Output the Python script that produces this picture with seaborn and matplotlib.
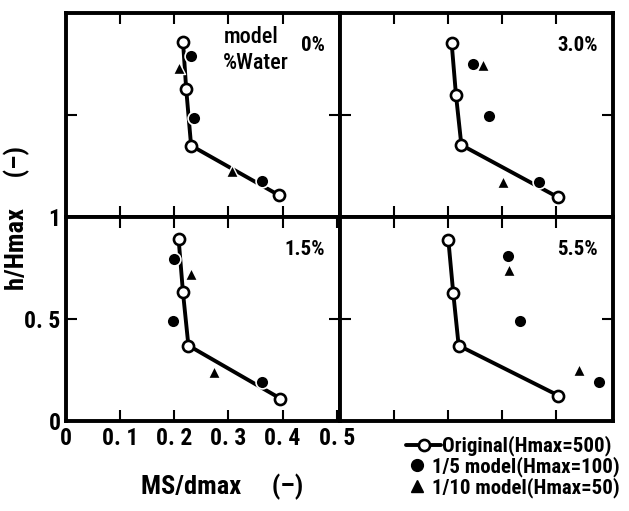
import numpy as np
import pandas as pd
import seaborn as sns
import matplotlib.pyplot as plt
from matplotlib.lines import Line2D

# panels in grid order: top-left, top-right, bottom-left, bottom-right
water = ['0%', '3.0%', '1.5%', '5.5%']

# Original (Hmax=500)
orig_x = [[0.216, 0.222, 0.231, 0.393],
          [0.207, 0.215, 0.225, 0.404],
          [0.208, 0.216, 0.226, 0.396],
          [0.201, 0.210, 0.220, 0.404]]
orig_y = [[0.86, 0.625, 0.35, 0.107],
          [0.855, 0.60, 0.353, 0.096],
          [0.89, 0.63, 0.37, 0.11],
          [0.887, 0.628, 0.37, 0.125]]

# 1/5 model (Hmax=100)
m5_x = [[0.230, 0.236, 0.362],
        [0.246, 0.276, 0.369],
        [0.200, 0.198, 0.362],
        [0.312, 0.333, 0.480]]
m5_y = [[0.79, 0.486, 0.177],
        [0.75, 0.494, 0.172],
        [0.795, 0.49, 0.19],
        [0.81, 0.49, 0.19]]

# 1/10 model (Hmax=50)
m10_x = [[0.208, 0.307],
         [0.265, 0.302],
         [0.230, 0.273],
         [0.313, 0.443]]
m10_y = [[0.73, 0.226],
         [0.743, 0.172],
         [0.72, 0.24],
         [0.74, 0.25]]

xticks = [0, 0.1, 0.2, 0.3, 0.4, 0.5]
xticklabels = ['0', '0. 1', '0. 2', '0. 3', '0. 4', '0. 5']
yticks = [0, 0.5, 1]
yticklabels = ['0', '0. 5', '1']

sns.set_style('ticks')
fam = ['Roboto Condensed', 'Roboto', 'DejaVu Sans']
plt.rcParams['font.family'] = fam
plt.rcParams['text.color'] = 'black'
plt.rcParams['axes.edgecolor'] = 'black'
plt.rcParams['xtick.color'] = 'black'
plt.rcParams['ytick.color'] = 'black'
plt.rcParams['axes.labelcolor'] = 'black'
font = dict(weight='bold')

fig, axes = plt.subplots(2, 2, figsize=(6.29, 5.11), dpi=100,
                         gridspec_kw=dict(wspace=0, hspace=0))
fig.subplots_adjust(left=66/629, right=613/629, top=1-13/511, bottom=1-421/511)

for i, ax in enumerate(axes.flat):
    d_orig = pd.DataFrame({'x': orig_x[i], 'y': orig_y[i]})
    d_m5 = pd.DataFrame({'x': m5_x[i], 'y': m5_y[i]})
    d_m10 = pd.DataFrame({'x': m10_x[i], 'y': m10_y[i]})

    sns.lineplot(data=d_orig, x='x', y='y', sort=False, ax=ax, color='black',
                 lw=2.8, marker='o', markersize=8, markerfacecolor='white',
                 markeredgecolor='black', markeredgewidth=1.9, zorder=3)
    sns.scatterplot(data=d_m5, x='x', y='y', ax=ax, marker='o', s=85,
                    color='black', edgecolor='white', linewidth=1.2, zorder=4)
    sns.scatterplot(data=d_m10, x='x', y='y', ax=ax, marker='^', s=75,
                    color='black', edgecolor='white', linewidth=1.0, zorder=4)

    ax.set_xlim(0, 0.505)
    ax.set_ylim(0, 1)
    ax.set_xticks(xticks[1:5])
    ax.set_yticks([0.5])
    ax.tick_params(direction='in', top=True, right=True, length=8, width=1.5,
                   labelbottom=False, labelleft=False)
    for s in ax.spines.values():
        s.set_linewidth(2.8)
    ax.set_xlabel('')
    ax.set_ylabel('')
    ax.text(0.945, 0.84, water[i], transform=ax.transAxes, ha='right', va='center',
            fontsize=15, **font)

# labelled bottom-left panel
ax = axes[1, 0]
ax.set_xticks(xticks)
ax.set_xticklabels(xticklabels)
ax.set_yticks(yticks)
ax.set_yticklabels(yticklabels)
ax.tick_params(labelbottom=True, labelleft=True, labelsize=17, pad=4)
for t in ax.get_xticklabels() + ax.get_yticklabels():
    t.set_fontweight('bold')

axes[0, 0].text(0.575, 0.82, 'model\n%Water', transform=axes[0, 0].transAxes,
                ha='left', va='center', fontsize=16, linespacing=1.25,
                weight='medium')

fig.text(222/629, 1-487/511, 'MS/dmax     (\u2013)', ha='center', va='center',
         fontsize=19, **font)
fig.text(17/629, 1-218/511, 'h/Hmax     (\u2013)', ha='center', va='center',
         rotation=90, fontsize=19, **font)

# legend: first entry has a line handle, the other two marker only
leg_prop = dict(size=15, weight='bold', family=fam)
h_orig = Line2D([], [], color='black', lw=2.8, marker='o', markersize=8,
                markerfacecolor='white', markeredgewidth=1.9)
h_m5 = Line2D([], [], ls='none', marker='o', markersize=8.5, color='black')
h_m10 = Line2D([], [], ls='none', marker='^', markersize=8.5, color='black')
fig.legend([h_orig], ['Original(Hmax=500)'], loc='center left',
           bbox_to_anchor=(406/629, 1-446/511), frameon=False,
           handlelength=1.7, handletextpad=0.05, borderaxespad=0,
           borderpad=0, prop=leg_prop)
fig.legend([h_m5, h_m10], ['1/5 model(Hmax=100)', '1/10 model(Hmax=50)'],
           loc='center left', bbox_to_anchor=(409/629, 1-477/511), frameon=False,
           handlelength=0.8, handletextpad=0.3, labelspacing=0.0,
           borderaxespad=0, borderpad=0, prop=leg_prop)

fig.savefig('out.png', dpi=100)
